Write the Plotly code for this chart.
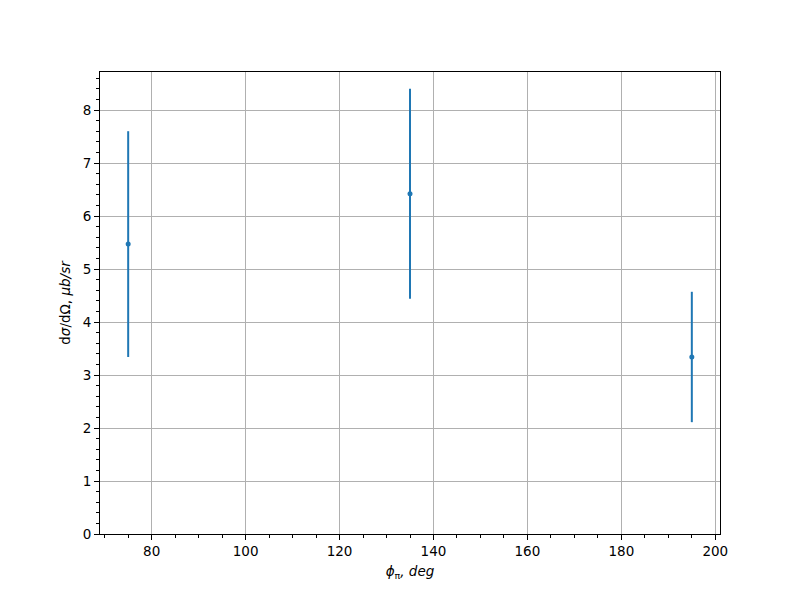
import plotly.graph_objects as go

phi = [75, 135, 195]
xsec = [5.47, 6.42, 3.34]
err = [2.13, 1.98, 1.23]

x_ticks = [80, 100, 120, 140, 160, 180, 200]
y_ticks = [0, 1, 2, 3, 4, 5, 6, 7, 8]

fig = go.Figure()
fig.add_trace(go.Scatter(
    x=phi, y=xsec, mode="markers",
    marker=dict(color="#1f77b4", size=5),
    error_y=dict(type="data", array=err, visible=True, color="#1f77b4", thickness=2, width=0),
    showlegend=False,
))

font = dict(family="DejaVu Sans", size=13.5, color="black")
fig.update_layout(
    width=800, height=600,
    margin=dict(l=92, r=88, t=64, b=74),
    plot_bgcolor="white", paper_bgcolor="white",
    font=font,
)
fig.update_xaxes(
    range=[69, 201], tickvals=x_ticks, ticks="outside", ticklen=5, tickwidth=1, tickcolor="black",
    showline=True, linecolor="black", linewidth=1, mirror=True,
    showgrid=True, gridcolor="#b0b0b0", gridwidth=0.8, zeroline=False,
    minor=dict(dtick=5, tick0=0, ticks="outside", ticklen=3, tickcolor="black", showgrid=False),
    title=dict(text="<i>ϕ</i><sub>π</sub><i>, deg</i>", font=font, standoff=8),
)
fig.update_yaxes(
    range=[0, 8.717], tickvals=y_ticks, ticks="outside", ticklen=5, tickwidth=1, tickcolor="black",
    showline=True, linecolor="black", linewidth=1, mirror=True,
    showgrid=True, gridcolor="#b0b0b0", gridwidth=0.8, zeroline=False,
    minor=dict(dtick=0.2, tick0=0, ticks="outside", ticklen=3, tickcolor="black", showgrid=False),
    title=dict(text="d<i>σ</i>/dΩ, <i>μb/sr</i>", font=font, standoff=8),
)
fig.write_html("out.html")
